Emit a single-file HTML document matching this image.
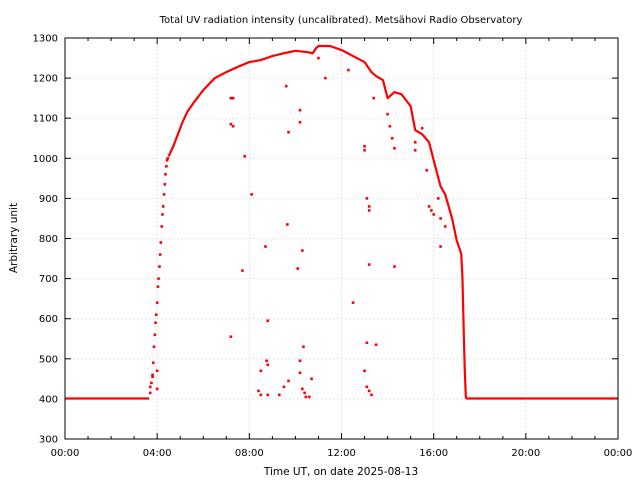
<!DOCTYPE html>
<html><head><meta charset="utf-8"><style>
body{margin:0;background:#fff;}
svg{display:block;font-family:"DejaVu Sans","Liberation Sans",sans-serif;}
</style></head><body>
<svg id="c" width="640" height="480">
<text x="341" y="23" font-size="10" text-anchor="middle">Total UV radiation intensity (uncalibrated). Metsähovi Radio Observatory</text>
<text x="341" y="475" font-size="10.5" text-anchor="middle">Time UT, on date 2025-08-13</text>
<text x="17" y="238" font-size="10.5" text-anchor="middle" transform="rotate(-90 17 238)">Arbitrary unit</text>
<g id="grid"></g>
<g id="ticks"></g>
<g id="marks"></g>
<rect x="65" y="38" width="553" height="401" fill="none" stroke="#000" stroke-width="1"/>
</svg>
<script>
const xTicks=[0,4,8,12,16,20,24];
const xTickLabels=["00:00","04:00","08:00","12:00","16:00","20:00","00:00"];
const yTicks=[300,400,500,600,700,800,900,1000,1100,1200,1300];
const nightTimes1=[0,3.65];
const nightVals1=[401,401];
const nightTimes2=[17.4,24];
const nightVals2=[401,401];
const riseTimes=[3.7,3.75,3.8,3.83,3.86,3.9,3.93,3.96,4.0,4.03,4.06,4.1,4.13,4.16,4.2,4.23,4.26,4.3,4.33,4.36,4.4,4.43,4.46];
const riseVals=[415,440,460,490,530,560,590,610,640,680,700,730,760,790,830,860,880,910,935,960,980,995,1000];
const curveTimes=[4.5,4.7,4.9,5.1,5.3,5.6,6.0,6.5,7.0,7.5,8.0,8.5,9.0,9.5,10.0,10.5,10.75,10.9,11.0,11.5,12.0,12.5,13.0,13.3,13.5,13.8,14.0,14.3,14.6,15.0,15.2,15.5,15.8,16.0,16.3,16.5,16.8,17.0,17.15,17.2,17.25,17.3,17.35,17.4];
const curveVals=[1005,1030,1060,1090,1115,1140,1170,1200,1215,1228,1240,1245,1255,1262,1268,1265,1262,1275,1280,1280,1270,1255,1240,1215,1205,1195,1150,1165,1160,1130,1070,1060,1040,995,930,910,850,795,770,760,700,580,470,401];
const outT=[7.2,7.3,7.2,7.3,7.8,8.1,7.7,7.2,8.7,8.8,8.5,8.4,8.5,8.8,8.75,8.8,9.3,9.5,9.7,9.7,9.6,9.65,10.2,10.2,10.1,10.3,10.35,10.2,10.2,10.3,10.45,10.6,10.7,10.4,11.3,11.0,12.5,12.3,13.0,13.0,13.1,13.2,13.2,13.2,13.1,13.0,13.1,13.3,13.2,13.5,13.4,14.0,14.2,14.3,14.3,14.1,15.2,15.2,15.5,15.8,15.9,16.0,15.7,16.2,16.3,16.3,16.5,4.0,3.8,4.0,3.7];
const outV=[1085,1080,1150,1150,1005,910,720,555,780,595,470,420,410,410,495,485,410,430,445,1065,1180,835,1120,1090,725,770,530,495,465,425,405,405,450,415,1200,1250,640,1220,1030,1020,900,870,880,735,540,470,430,410,420,535,1150,1110,1050,1025,730,1080,1040,1020,1075,880,870,860,970,900,850,780,830,470,455,425,430];
const X=h=>65+h*553/24;
const Y=v=>439-(v-300)*401/1000;
const NS="http://www.w3.org/2000/svg";
const grid=document.getElementById('grid'),ticks=document.getElementById('ticks'),marks=document.getElementById('marks');
function mk(t,a,p){const e=document.createElementNS(NS,t);for(const k in a)e.setAttribute(k,a[k]);p.appendChild(e);return e;}
xTicks.forEach((h,i)=>{const x=X(h);
 if(i>0&&i<xTicks.length-1){const g=mk('line',{x1:x,x2:x,y1:38,y2:439,stroke:'#ccc','stroke-dasharray':'1,3'},grid);
 
 }
 mk('line',{x1:x,x2:x,y1:439,y2:433,stroke:'#000'},ticks);mk('line',{x1:x,x2:x,y1:38,y2:44,stroke:'#000'},ticks);
 const t=mk('text',{x:x,y:456,'font-size':10,'text-anchor':'middle'},ticks);t.textContent=xTickLabels[i];
 
 });
for(let h=1;h<24;h++){if(h%4){const x=X(h);mk('line',{x1:x,x2:x,y1:439,y2:436,stroke:'#000'},ticks);mk('line',{x1:x,x2:x,y1:38,y2:41,stroke:'#000'},ticks);}}
yTicks.forEach((v,i)=>{const y=Y(v);
 if(i>0&&i<yTicks.length-1){const g=mk('line',{x1:65,x2:618,y1:y,y2:y,stroke:'#ccc','stroke-dasharray':'1,3'},grid);
 
 }
 mk('line',{x1:65,x2:71,y1:y,y2:y,stroke:'#000'},ticks);mk('line',{x1:618,x2:612,y1:y,y2:y,stroke:'#000'},ticks);
 const t=mk('text',{x:58,y:y+3.5,'font-size':10,'text-anchor':'end'},ticks);t.textContent=v;
 
 });
function line(ts,vs,name){const p=mk('polyline',{points:ts.map((t,i)=>X(t)+','+Y(vs[i])).join(' '),fill:'none',stroke:'#f00','stroke-width':2.2,'stroke-linejoin':'round'},marks);
 
 }
line(nightTimes1,nightVals1,'night-baseline-morning');
line(nightTimes2,nightVals2,'night-baseline-evening');
line(curveTimes,curveVals,'daytime-curve');
function dots(ts,vs,name){ts.forEach((t,i)=>{const c=mk('rect',{x:X(t)-1.3,y:Y(vs[i])-1.3,width:2.6,height:2.6,fill:'#f00'},marks);
 
 });}
dots(riseTimes,riseVals,'sunrise-point');
dots(outT,outV,'outlier-point');
</script>
</body></html>
